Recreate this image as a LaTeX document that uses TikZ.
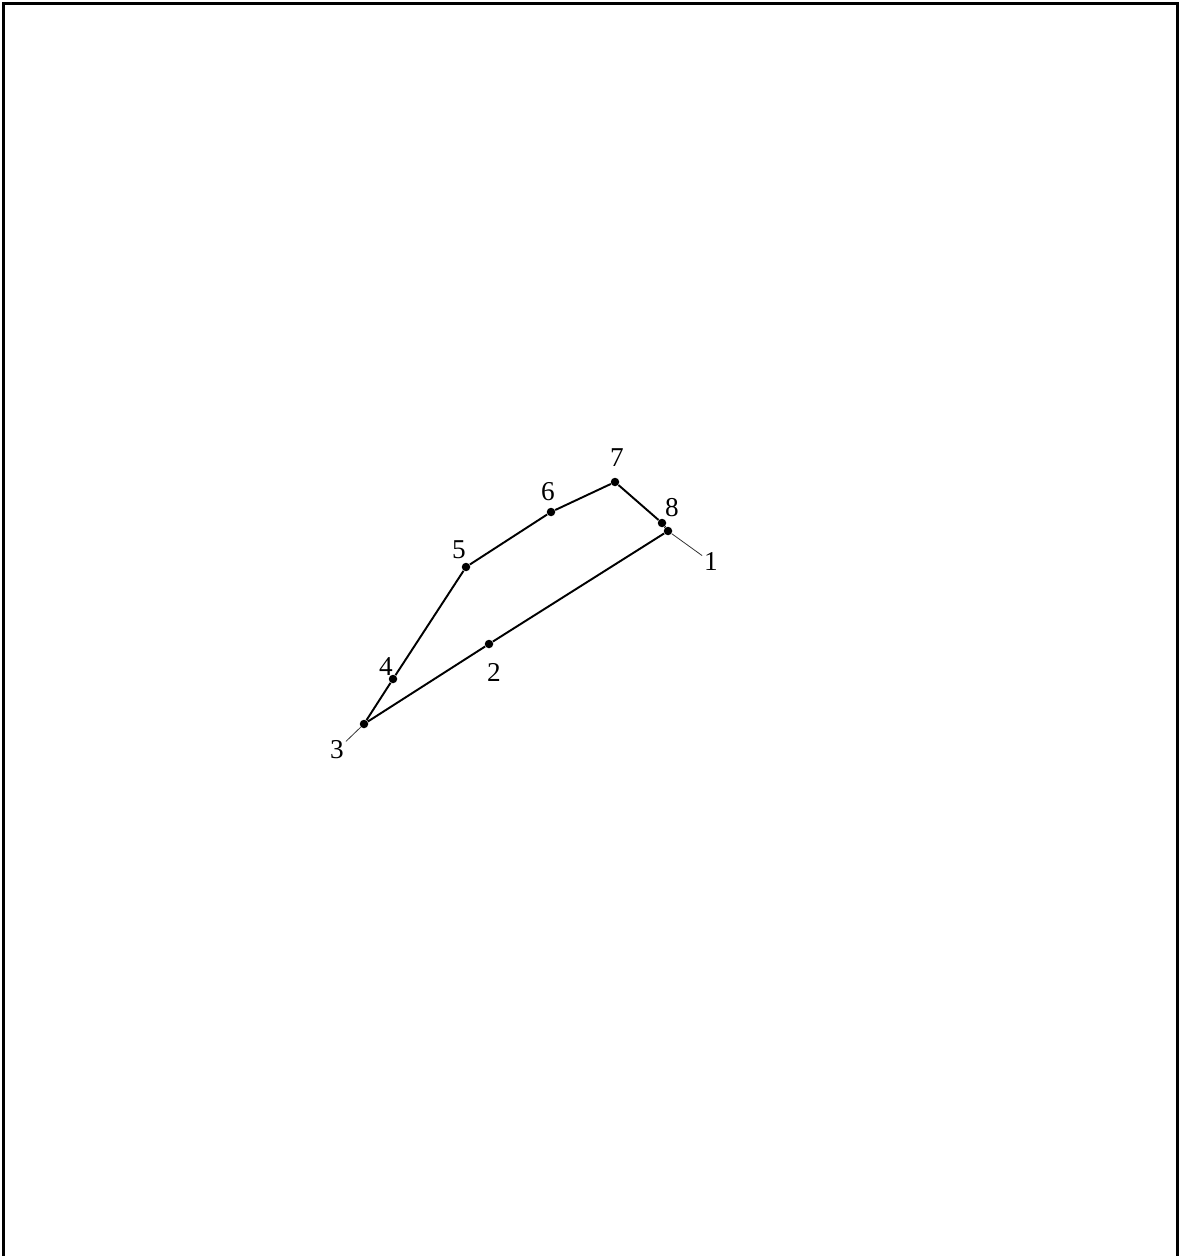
\documentclass[tikz,border=0pt]{standalone}
\usepackage{fontspec}
\setmainfont{Liberation Serif}
\begin{document}
\begin{tikzpicture}[
    x=0.02cm, y=-0.02cm,
    vtx/.style={circle, fill, inner sep=0pt, minimum size=0.17cm},
    edge/.style={line width=1.1pt},
    lead/.style={line width=0.45pt, black!80},
    lbl/.style={font=\fontsize{15.5}{18}\selectfont, inner sep=1pt}
  ]
  \useasboundingbox (0,0) rectangle (1184,1256);

  % open frame, no bottom side
  \draw[line width=1.7pt] (3.5,1260) -- (3.5,3.5) -- (1177,3.5) -- (1177,1260);

  \node[vtx] (p1) at (668,531) {};
  \node[vtx] (p2) at (489,644) {};
  \node[vtx] (p3) at (364,724) {};
  \node[vtx] (p4) at (393,679) {};
  \node[vtx] (p5) at (466,567) {};
  \node[vtx] (p6) at (551,512) {};
  \node[vtx] (p7) at (615,482) {};
  \node[vtx] (p8) at (662,523) {};

  \node[lbl] (l1) at (711,562) {1};
  \node[lbl] (l2) at (494,672) {2};
  \node[lbl] (l3) at (337,750) {3};
  \node[lbl] (l4) at (386,667) {4};
  \node[lbl] (l5) at (459,550) {5};
  \node[lbl] (l6) at (548,492) {6};
  \node[lbl] (l7) at (617,458) {7};
  \node[lbl] (l8) at (672,508) {8};

  % the closed outline
  \draw[edge] (p1) -- (p2) -- (p3) -- (p4) -- (p5) -- (p6) -- (p7) -- (p8) -- (p1);

  \draw[lead] (p1) -- (l1);
  \draw[lead] (p3) -- (l3);

\end{tikzpicture}
\end{document}
